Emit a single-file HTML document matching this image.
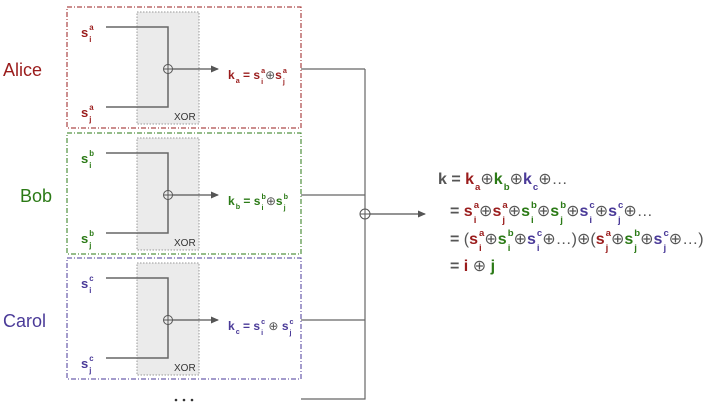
<!DOCTYPE html>
<html><head><meta charset="utf-8"><style>
html,body{margin:0;padding:0;background:#fff;}
body{position:relative;width:720px;height:406px;overflow:hidden;font-family:"Liberation Sans",sans-serif;}
svg{position:absolute;left:0;top:0;display:block;}
.t{position:absolute;white-space:nowrap;font-weight:bold;line-height:1;}
.st{display:inline-flex;flex-direction:column;vertical-align:0.85em;font-size:0.6em;line-height:1.55;margin-left:1px;}
.sb{font-size:0.6em;vertical-align:-0.6em;margin-left:1px;}
.n{font-weight:normal;color:#555;}
.nm{position:absolute;font-size:18px;white-space:nowrap;}
.xor{position:absolute;font-size:10px;color:#333;}
</style></head><body>
<svg id="s" width="720" height="406" viewBox="0 0 720 406">
<defs><marker id="ar" markerWidth="8" markerHeight="8" refX="7" refY="4" orient="auto" markerUnits="userSpaceOnUse"><path d="M0,0.5 L8,4 L0,7.5z" fill="#555"/></marker></defs>
</svg>
<div id="ov"></div>
<script>
const NS='http://www.w3.org/2000/svg';
const svg=document.getElementById('s');
const ov=document.getElementById('ov');
function mk(tag,attrs,parent){const e=document.createElementNS(NS,tag);for(const k in attrs)e.setAttribute(k,attrs[k]);(parent||svg).appendChild(e);return e;}
function div(cls,x,y,html,style){const d=document.createElement('div');d.className=cls;d.style.left=x+'px';d.style.top=y+'px';if(style)d.style.cssText+=style;d.innerHTML=html;ov.appendChild(d);return d;}
const people=['Alice','Bob','Carol'];
const letters=['a','b','c'];
const colors=['#9a1c1c','#2b7a16','#4a3a98'];
const nameX=[3,20,3];
const tops=[7,133,258];
function S(c,l,ij){return `<span style="color:${c}">s<span class="st"><span>${l}</span><span>${ij}</span></span></span>`;}
const o=`<span class="n">⊕</span>`;
people.forEach((p,i)=>{
  const c=colors[i],t=tops[i],L=letters[i];
  const g=mk('g',{});
  
  
  mk('rect',{x:67,y:t,width:234,height:121,fill:'none',stroke:c,'stroke-width':1,'stroke-dasharray':'5,2,1,2'},g);
  const xr=mk('rect',{x:137,y:t+5,width:62,height:112,fill:'#ebebeb',stroke:'#999','stroke-width':1,'stroke-dasharray':'1.5,1.5'},g);
  
  
  const cy=t+62;
  mk('path',{d:`M106,${t+20} H168 V${cy-4.5} M106,${t+100} H168 V${cy+4.5}`,fill:'none',stroke:'#666','stroke-width':1.5},g);
  mk('circle',{cx:168,cy:cy,r:4.5,fill:'none',stroke:'#555','stroke-width':1},g);
  mk('path',{d:`M163.5,${cy} H172.5 M168,${cy-4.5} V${cy+4.5}`,stroke:'#555','stroke-width':1},g);
  mk('path',{d:`M172.5,${cy} H218`,stroke:'#555','stroke-width':1.2,'marker-end':'url(#ar)'},g);
  mk('path',{d:`M301,${t+62} H365`,stroke:'#666','stroke-width':1.2,fill:'none'});
  const nm=div('nm',nameX[i],t+53,p,`color:${c}`);
  
  
  const xt=div('xor',174,t+105,'XOR');
  
  
  const si=div('t',81,t+15,S(c,L,'i'),'font-size:13px');
  
  
  const sj=div('t',81,t+95,S(c,L,'j'),'font-size:13px');
  
  
  const op=i==2?' <span class="n">⊕</span> ':'<span class="n">⊕</span>';
  const k=div('t',228,t+58,`<span style="color:${c}">k<span class="sb">${L}</span> = </span>${S(c,L,'i')}${op}${S(c,L,'j')}`,`font-size:12px;color:${c}`);
  
  
});
mk('path',{d:'M301,399 H365 V69',stroke:'#666','stroke-width':1.2,fill:'none'});
[176,184,192].forEach(x=>{const d=mk('circle',{cx:x,cy:400,r:1.3,fill:'#333'});});
mk('circle',{cx:365,cy:214,r:5,fill:'#fff',stroke:'#555','stroke-width':1});
mk('path',{d:'M360,214 H370 M365,209 V219',stroke:'#555','stroke-width':1});
mk('path',{d:'M370,214 H425',stroke:'#555','stroke-width':1.2,'marker-end':'url(#ar)'});
const R=colors[0],G=colors[1],P=colors[2],K='#555';
function k(c,l){return `<span style="color:${c}">k<span class="sb">${l}</span></span>`;}
const st='font-size:16px;color:#555';
const e1=div('t',438,172,`k = ${k(R,'a')}${o}${k(G,'b')}${o}${k(P,'c')}${o}<span class="n">…</span>`,st);
const e2=div('t',450,199,`= ${S(R,'a','i')}${o}${S(R,'a','j')}${o}${S(G,'b','i')}${o}${S(G,'b','j')}${o}${S(P,'c','i')}${o}${S(P,'c','j')}${o}<span class="n">…</span>`,st);
const e3=div('t',450,227,`= <span class="n">(</span>${S(R,'a','i')}${o}${S(G,'b','i')}${o}${S(P,'c','i')}${o}<span class="n">…)</span>${o}<span class="n">(</span>${S(R,'a','j')}${o}${S(G,'b','j')}${o}${S(P,'c','j')}${o}<span class="n">…)</span>`,st);
const e4=div('t',450,259,`= <span style="color:${R}">i</span> ${o} <span style="color:${G}">j</span>`,st);
[e1,e2,e3,e4].forEach((e,i)=>{});
</script>
</body></html>
